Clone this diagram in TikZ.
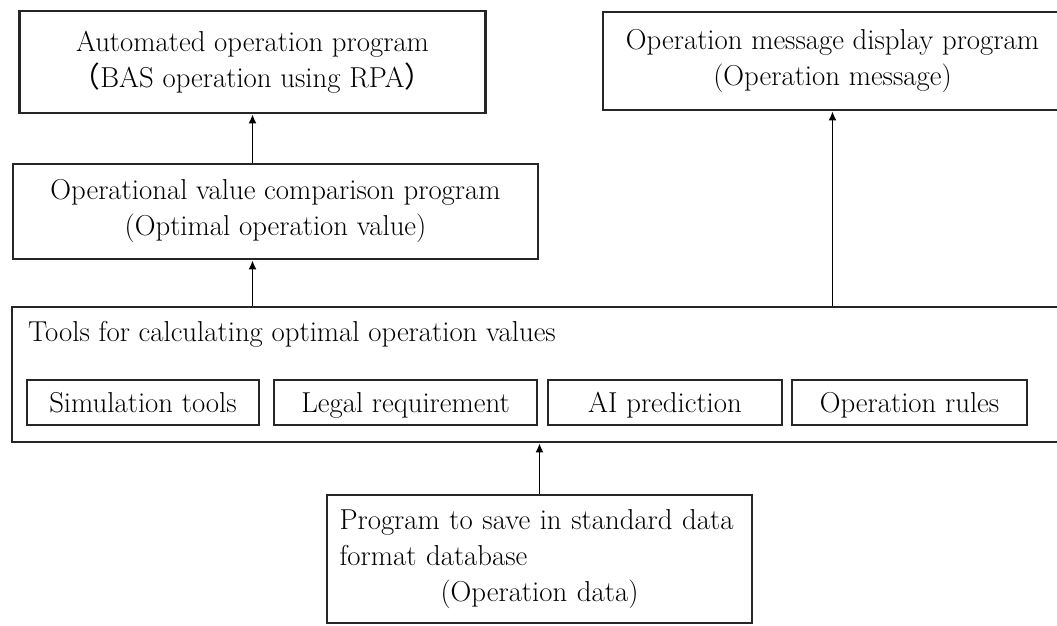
\documentclass[tikz,border=0pt]{standalone}
\usepackage{fontspec}
\usetikzlibrary{arrows.meta,positioning}
\newfontfamily\cjkparen{Noto Sans CJK SC}
\tikzset{
  progbox/.style={draw=black!85, line width=2.8pt, fill=white, align=center, inner sep=0pt, font=\fontsize{28.8}{36}\selectfont},
  toolbox/.style={draw=black!85, line width=2.6pt, inner sep=0pt, minimum height=45pt, text height=19pt, text depth=0pt, font=\fontsize{28.8}{36}\selectfont},
  figtext/.style={inner sep=0pt, font=\fontsize{28.8}{36}\selectfont},
  link/.style={-{Latex[length=9pt,width=8pt]}, draw=black, line width=1.4pt}
}

\begin{document}
\begin{tikzpicture}[x=1pt,y=-1pt]
  \useasboundingbox (0,0) rectangle (1057,625);
  % top row
  \node[progbox, minimum width=466pt, minimum height=102pt] (auto) at (252.5,62) {Automated operation program\\{\cjkparen （}BAS operation using RPA{\cjkparen ）}};
  \node[progbox, minimum width=459pt, minimum height=98pt] (msg) at (832.5,61) {Operation message display program\\(Operation message)};
  \node[progbox, minimum width=525pt, minimum height=95pt] (bvalue) at (275.5,211.5) {Operational value comparison program\\(Optimal operation value)};
  % tool group
  \node[progbox, minimum width=1050pt, minimum height=135pt] (tools) at (537,374.5) {};
  \node[figtext, anchor=base west] (toolstitle) at (28,341) {Tools for calculating optimal operation values};
  \node[toolbox, minimum width=232pt] (sim) at (143,402.5) {Simulation tools};
  \node[toolbox, minimum width=263pt] (legal) at (405.5,402.5) {Legal requirement};
  \node[toolbox, minimum width=234pt] (aipred) at (665,402.5) {AI prediction};
  \node[toolbox, minimum width=235pt] (rules) at (909.5,402.5) {Operation rules};
  % database program
  \node[progbox, align=left, text width=400pt, minimum width=425pt, minimum height=128pt] (savedb) at (539.5,559) {Program to save in standard data\\format database\\\hspace*{\fill}(Operation data)\hspace*{\fill}\mbox{}};
  % connectors
  \draw[link] (bvalue.north -| auto.south) -- (auto.south);
  \draw[link] (tools.north -| auto.south) -- (auto.south |- bvalue.south);
  \draw[link] (tools.north -| msg.south) -- (msg.south);
  \draw[link] (savedb.north) -- (savedb.north |- tools.south);
\end{tikzpicture}
\end{document}
